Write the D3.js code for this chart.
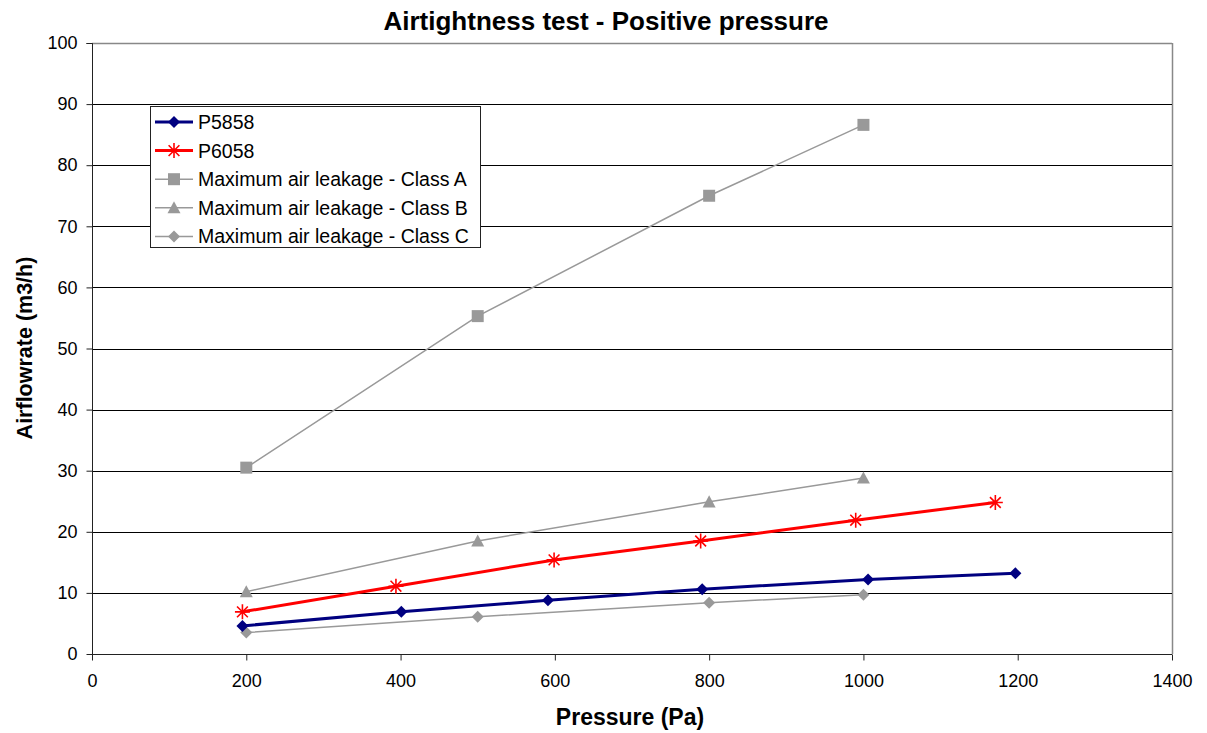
<!DOCTYPE html>
<html><head><meta charset="utf-8">
<script src="https://cdn.jsdelivr.net/npm/d3@7"></script>
<style>body{margin:0;background:#fff}svg{display:block;font-family:"Liberation Sans",Arial,sans-serif}</style>
</head><body><svg id="c" width="1207" height="733"></svg>
<script>
const title = "Airtightness test - Positive pressure";
const xTitle = "Pressure (Pa)";
const yTitle = "Airflowrate (m3/h)";
const xTicks = [0,200,400,600,800,1000,1200,1400];
const yTicks = [0,10,20,30,40,50,60,70,80,90,100];
const p5858X = [195,401,591,791,1006,1197];
const p5858Y = [4.6,6.9,8.8,10.6,12.2,13.2];
const p6058X = [195,394,599,789,990,1171];
const p6058Y = [6.9,11.1,15.4,18.5,21.9,24.8];
const classX = [200,500,800,1000];
const classA = [30.5,55.3,75.0,86.6];
const classB = [10.2,18.5,24.9,28.8];
const classC = [3.5,6.1,8.4,9.7];
const seriesNames = ["P5858","P6058","Maximum air leakage - Class A","Maximum air leakage - Class B","Maximum air leakage - Class C"];

const series = [
  {name:seriesNames[0], xs:p5858X, ys:p5858Y, color:"#000080", width:3, marker:"diamond", size:6},
  {name:seriesNames[1], xs:p6058X, ys:p6058Y, color:"#ff0000", width:3, marker:"star", size:7.5},
  {name:seriesNames[2], xs:classX, ys:classA, color:"#999999", width:1.5, marker:"square", size:12},
  {name:seriesNames[3], xs:classX, ys:classB, color:"#999999", width:1.5, marker:"triangle", size:6.5},
  {name:seriesNames[4], xs:classX, ys:classC, color:"#999999", width:1.5, marker:"diamond", size:6},
];

const svg = d3.select("#c");
const L=92, R=1172, T=43, B=654;
const x = d3.scaleLinear().domain([0,1400]).range([L,R]);
const y = d3.scaleLinear().domain([0,100]).range([B,T]);

svg.append("line").attr("x1",L).attr("x2",R).attr("y1",T+0.5).attr("y2",T+0.5).attr("stroke","#888").attr("stroke-width",1.5);
svg.append("line").attr("x1",R+0.5).attr("x2",R+0.5).attr("y1",T).attr("y2",B).attr("stroke","#888").attr("stroke-width",1.5);

svg.append("g").selectAll("line").data(yTicks.filter(d=>d>0&&d<100)).join("line")
  .attr("x1",L).attr("x2",R).attr("y1",d=>Math.round(y(d))+0.5).attr("y2",d=>Math.round(y(d))+0.5)
  .attr("stroke","#000").attr("stroke-width",1);

const yAxis = svg.append("g").attr("transform",`translate(${L+0.5},0)`)
  .call(d3.axisLeft(y).tickValues(yTicks).tickFormat(d3.format("d")).tickSize(6).tickPadding(9));
const xAxis = svg.append("g").attr("transform",`translate(0,${B+0.5})`)
  .call(d3.axisBottom(x).tickValues(xTicks).tickFormat(d3.format("d")).tickSize(6).tickPadding(14));
[yAxis,xAxis].forEach(g=>{
  g.select(".domain").attr("stroke","#222");
  g.selectAll(".tick line").attr("stroke","#222");
  g.selectAll("text").attr("font-size",18).attr("fill","#000").attr("font-family","Liberation Sans, Arial, sans-serif");
});
yAxis.select(".domain").attr("d",`M-6,${T+0.5}H0V${B}`);
xAxis.select(".domain").attr("d",`M${L},0H${R}`);

function markerPath(m,s){
  if(m==="diamond") return `M0,${-s}L${s},0L0,${s}L${-s},0Z`;
  if(m==="triangle") return `M0,${-s}L${s},${s*0.85}L${-s},${s*0.85}Z`;
  if(m==="square"){const h=s/2;return `M${-h},${-h}H${h}V${h}H${-h}Z`;}
  if(m==="star"){const a=s*0.72;return `M0,${-s}V${s}M${-s},0H${s}M${-a},${-a}L${a},${a}M${-a},${a}L${a},${-a}`;}
}
function drawMarker(g,m,s,color,cx,cy){
  const p=g.append("path").attr("d",markerPath(m,s)).attr("transform",`translate(${cx},${cy})`);
  if(m==="star") p.attr("fill","none").attr("stroke",color).attr("stroke-width",1.6);
  else p.attr("fill",color).attr("stroke","none");
}

const line = d3.line().x(d=>x(d[0])).y(d=>y(d[1]));
[2,3,4,1,0].forEach(i=>{
  const s=series[i];
  const pts=s.xs.map((v,k)=>[v,s.ys[k]]);
  const g=svg.append("g");
  g.append("path").datum(pts).attr("d",line).attr("fill","none").attr("stroke",s.color).attr("stroke-width",s.width);
  pts.forEach(p=>drawMarker(g,s.marker,s.size,s.color,x(p[0]),y(p[1])));
});

const lg = svg.append("g");
lg.append("rect").attr("x",150.5).attr("y",106.5).attr("width",330).attr("height",141).attr("fill","#fff").attr("stroke","#222").attr("stroke-width",1);
series.forEach((s,i)=>{
  const cy=122+i*28.6;
  lg.append("line").attr("x1",155).attr("x2",193).attr("y1",cy).attr("y2",cy).attr("stroke",s.color).attr("stroke-width",s.width);
  drawMarker(lg,s.marker,s.size,s.color,174,cy);
  lg.append("text").attr("x",198).attr("y",cy).attr("dy","0.36em").attr("font-size",19.5).text(s.name);
});

svg.append("text").attr("x",606).attr("y",30).attr("text-anchor","middle").attr("font-size",26).attr("font-weight","bold").text(title);
svg.append("text").attr("x",630).attr("y",725).attr("text-anchor","middle").attr("font-size",23).attr("font-weight","bold").text(xTitle);
svg.append("text").attr("transform","translate(32,348) rotate(-90)").attr("text-anchor","middle").attr("font-size",21.5).attr("font-weight","bold").text(yTitle);
</script></body></html>
